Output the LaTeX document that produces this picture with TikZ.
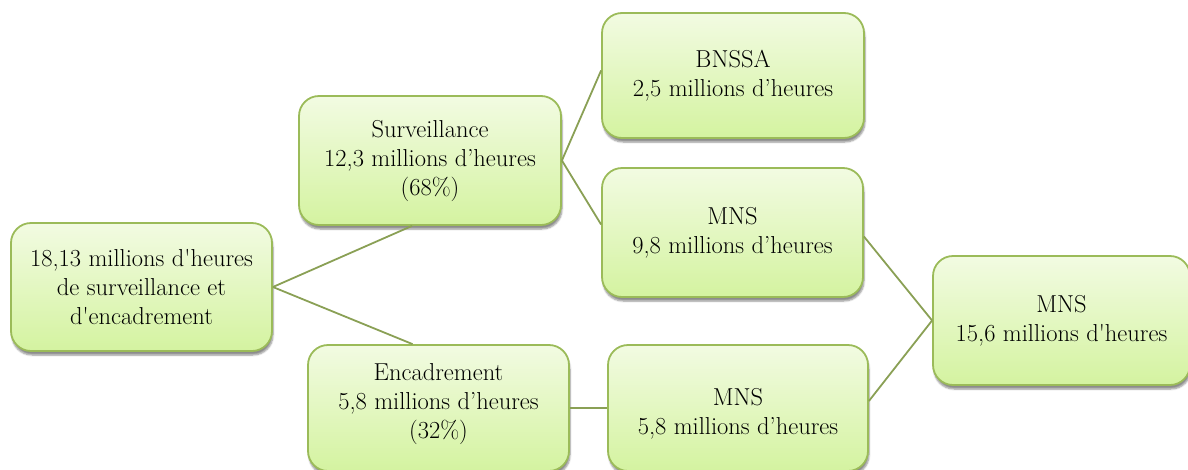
\documentclass[tikz,border=0pt]{standalone}
\usetikzlibrary{shadows.blur}
\definecolor{boxborder}{RGB}{155,187,89}
\definecolor{boxtop}{RGB}{242,251,226}
\definecolor{boxbottom}{RGB}{212,243,160}
\definecolor{linkcol}{RGB}{138,160,85}
\tikzset{
  box/.style={draw=boxborder, line width=1.8pt, rounded corners=20pt,
    top color=boxtop, bottom color=boxbottom, align=center,
    font=\fontsize{24.5}{29}\selectfont, text=black,
    blur shadow={shadow xshift=1pt, shadow yshift=-4pt, shadow blur steps=6, shadow opacity=45}},
  link/.style={draw=linkcol, line width=1.8pt}
}
\begin{document}
\begin{tikzpicture}[x=1pt,y=-1pt]
\useasboundingbox (0,0) rectangle (1188,469);
\clip (0,0) rectangle (1188,469);
\node[box, minimum width=261pt, minimum height=128pt] (root) at (141.5,287)
  {18,13 millions d\textquotesingle heures\\de surveillance et\\d\textquotesingle encadrement};
\node[box, minimum width=262pt, minimum height=129pt] (surv) at (430,160.5)
  {Surveillance\\12,3 millions d’heures\\(68\%)};
\node[box, minimum width=262pt, minimum height=125pt] (bnssa) at (733,75.5)
  {BNSSA\\2,5 millions d’heures};
\node[box, minimum width=261pt, minimum height=129pt] (mnsa) at (732.5,232.5)
  {MNS\\9,8 millions d’heures};
\node[box, minimum width=257pt, minimum height=129pt] (mnst) at (1061.5,320.5)
  {MNS\\15,6 millions d\textquotesingle heures};
\node[box, minimum width=261pt, minimum height=126pt] (enc) at (438.5,408)
  {Encadrement\\5,8 millions d’heures\\(32\%)\\[-15pt]\mbox{}};
\node[box, minimum width=260pt, minimum height=126pt] (mnsb) at (738,408)
  {\mbox{}\\[-1pt]MNS\\5,8 millions d’heures};
\draw[link] (root.east) -- ([xshift=-18pt]surv.south);
\draw[link] (root.east) -- ([xshift=-26pt]enc.north);
\draw[link] (surv.east) -- ([yshift=5pt]bnssa.west);
\draw[link] (surv.east) -- ([yshift=8pt]mnsa.west);
\draw[link] (enc.east) -- (mnsb.west);
\draw[link] ([yshift=-4pt]mnsa.east) -- (mnst.west);
\draw[link] ([yshift=7pt]mnsb.east) -- (mnst.west);
\end{tikzpicture}
\end{document}
